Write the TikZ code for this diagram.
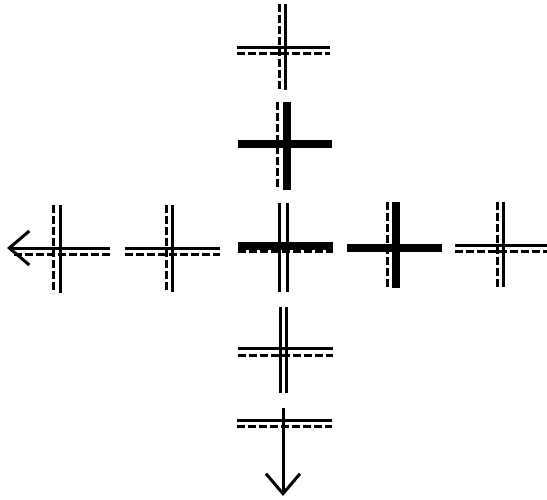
\documentclass[tikz,border=0pt]{standalone}
\usetikzlibrary{arrows.meta}
\tikzset{
  solidln/.style={draw,line width=3pt},
  dashln/.style={draw,line width=3pt,dash pattern=on 8pt off 3pt},
  heavyln/.style={draw,line width=8pt},
  arrowln/.style={solidln,-{Straight Barb[length=20pt,width=34pt,line width=3pt]}}
}

\begin{document}
\begin{tikzpicture}[x=1pt,y=-1pt]
\useasboundingbox (0,0) rectangle (547,499);
% column
\draw[dashln] (279,4) -- (279,90);
\draw[solidln] (285,4) -- (285,90);
\draw[solidln] (237,47) -- (330,47);
\draw[dashln] (237,53) -- (330,53);

\draw[dashln] (277,102) -- (277,190);
\draw[heavyln] (287,102) -- (287,190);
\draw[heavyln] (238,144) -- (332,144);

\draw[solidln] (279,203) -- (279,292);
\draw[solidln] (287,203) -- (287,292);
\draw[heavyln] (238,246) -- (333,246);
\draw[dashln] (238,251) -- (333,251);

\draw[solidln] (280,307) -- (280,393);
\draw[solidln] (286,307) -- (286,393);
\draw[solidln] (238,348) -- (333,348);
\draw[dashln] (238,355) -- (333,355);

\draw[solidln] (237,420) -- (332,420);
\draw[dashln] (237,426) -- (332,426);
\draw[arrowln] (283,408) -- (283,496);
% row
\draw[dashln] (53,205) -- (53,293);
\draw[solidln] (60,205) -- (60,293);
\draw[arrowln] (110,248) -- (7,248);
\draw[dashln] (110,254) -- (12,254);

\draw[dashln] (166,205) -- (166,292);
\draw[solidln] (172,205) -- (172,292);
\draw[solidln] (125,248) -- (220,248);
\draw[dashln] (125,254) -- (220,254);

\draw[dashln] (387,202) -- (387,288);
\draw[heavyln] (396,202) -- (396,288);
\draw[heavyln] (347,248) -- (442,248);

\draw[dashln] (497,202) -- (497,287);
\draw[solidln] (503,202) -- (503,287);
\draw[solidln] (455,245) -- (547,245);
\draw[dashln] (455,251) -- (547,251);
\end{tikzpicture}
\end{document}
